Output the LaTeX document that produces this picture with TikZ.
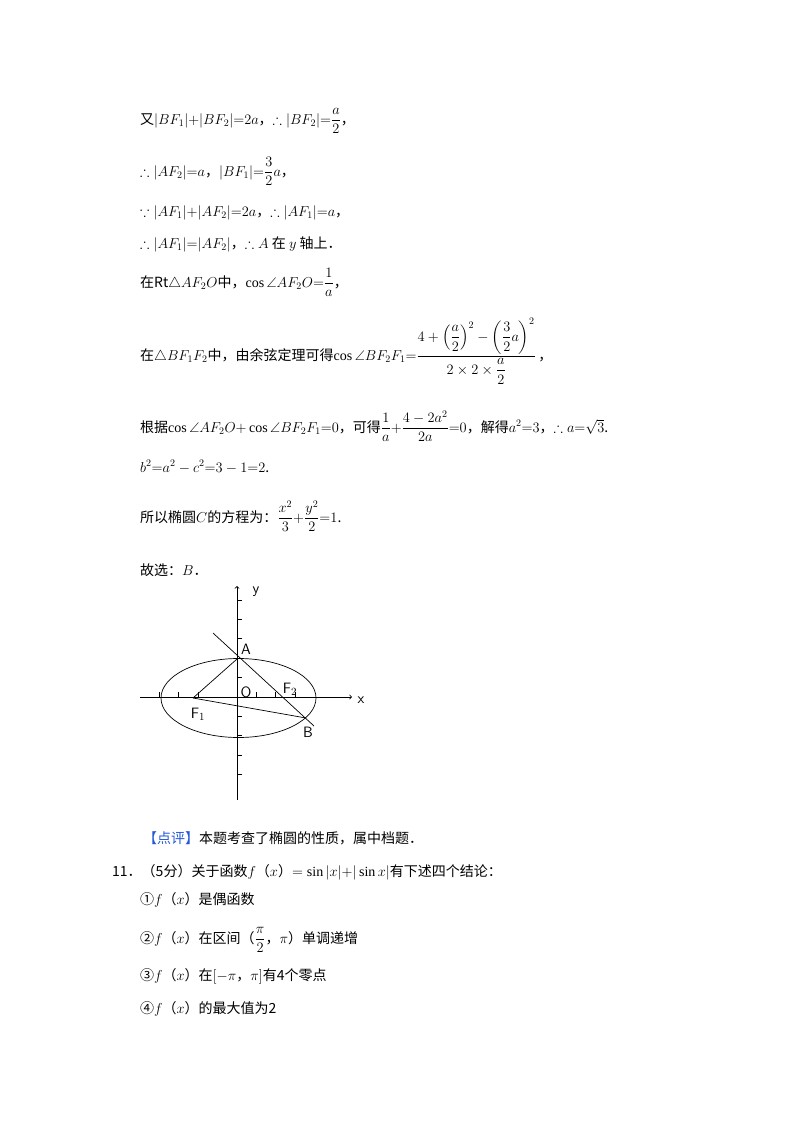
\documentclass[tikz,border=0pt]{standalone}
\usepackage{amsmath,amssymb}
\usepackage{fontspec}
\setmainfont{Liberation Serif}
\newfontfamily\cjk{Noto Sans CJK SC}
\begin{document}
\begin{tikzpicture}[x=1pt,y=-1pt,
  txt/.style={anchor=base west,inner sep=0pt,font=\cjk\fontsize{14}{17}\selectfont},
  lab/.style={font=\sffamily\fontsize{15}{15}\selectfont},
  ax/.style={line width=0.8pt},
  curve/.style={line width=0.7pt}]
\useasboundingbox[fill=white] (0,0) rectangle (800,1132);
\node[txt] (l1) at (140,124) {又$|BF_1|{+}|BF_2|{=}2a$，$\therefore|BF_2|{=}\dfrac{a}{2}$，};
\node[txt] (l2) at (140,176) {$\therefore|AF_2|{=}a$，$|BF_1|{=}\dfrac{3}{2}a$，};
\node[txt] (l3) at (140,216) {$\because|AF_1|{+}|AF_2|{=}2a$，$\therefore|AF_1|{=}a$，};
\node[txt] (l4) at (140,248) {$\therefore|AF_1|{=}|AF_2|$，$\therefore A$ 在 $y$ 轴上．};
\node[txt] (l5) at (140,287) {在Rt$\triangle AF_2O$中，$\cos\angle AF_2O{=}\dfrac{1}{a}$，};
\node[txt] (l6) at (140,360) {在$\triangle BF_1F_2$中，由余弦定理可得$\cos\angle BF_2F_1{=}\dfrac{4+\left(\dfrac{a}{2}\right)^2-\left(\dfrac{3}{2}a\right)^2}{2\times2\times\dfrac{a}{2}}$\,，};
\node[txt] (l7) at (140,432) {根据$\cos\angle AF_2O{+}\cos\angle BF_2F_1{=}0$，可得$\dfrac{1}{a}{+}\dfrac{4-2a^2}{2a}{=}0$，解得$a^2{=}3$，$\therefore a{=}\sqrt{3}$.};
\node[txt] (l8) at (140,472) {$b^2{=}a^2-c^2{=}3-1{=}2$.};
\node[txt] (l9) at (140,522) {所以椭圆$C$的方程为：$\dfrac{x^2}{3}{+}\dfrac{y^2}{2}{=}1$.};
\node[txt] (l10) at (140,575) {故选：$B$．};
% figure
\draw[ax,->] (140,697) -- (352,697);
\draw[ax,->] (237,800) -- (237,586);
\foreach \i in {-4,-3,-2,1,2,3} \draw[ax] ({237+19.4*\i},697) -- ({237+19.4*\i},692);
\foreach \i in {-5,-4,-3,-1,1,2,3,4} \draw[ax] (237,{697+19.4*\i}) -- (242,{697+19.4*\i});
\draw[curve] (238.5,698) ellipse [x radius=77.5, y radius=39.5];
\coordinate (A) at (237,659);
\coordinate (F1) at (193,698);
\coordinate (B) at (306,718);
\coordinate (P) at (213,633);
\coordinate (Q) at (314,726);
\draw[curve] (P) -- (Q);
\draw[curve] (F1) -- (A);
\draw[curve] (F1) -- (B);
\node[lab] (ly) at (256,592) {y};
\node[lab] (lx) at (361,700) {x};
\node[lab] (lA) at (246,649) {A};
\node[lab] (lO) at (246,692) {O};
\node[lab] (lF2) at (290,689) {F$_2$};
\node[lab] (lF1) at (198,714) {F$_1$};
\node[lab] (lB) at (308,732) {B};
\node[txt] (l11) at (143,843) {\textcolor[rgb]{0.15,0.35,0.85}{【点评】}本题考查了椭圆的性质，属中档题．};
\node[txt] (l12) at (112,876) {11．（5分）关于函数$f$（$x$）$=\sin|x|{+}|\sin x|$有下述四个结论：};
\node[txt] (l13) at (140,904) {①$f$（$x$）是偶函数};
\node[txt] (l14) at (140,943) {②$f$（$x$）在区间（$\dfrac{\pi}{2}$，$\pi$）单调递增};
\node[txt] (l15) at (140,980) {③$f$（$x$）在$[-\pi$，$\pi]$有4个零点};
\node[txt] (l16) at (140,1013) {④$f$（$x$）的最大值为2};
\end{tikzpicture}
\end{document}
